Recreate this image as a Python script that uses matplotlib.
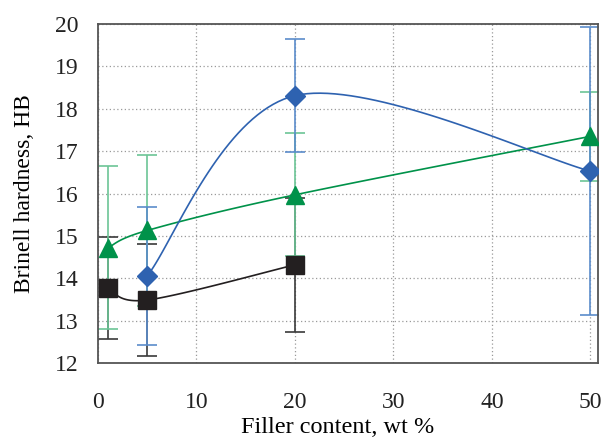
import numpy as np
import matplotlib
matplotlib.use("Agg")
import matplotlib.pyplot as plt

plt.rcParams["font.family"] = ["Liberation Serif", "DejaVu Serif"]

# filler content (wt %) and Brinell hardness (HB)
x_black = [1, 5, 20]
hb_black = [13.77, 13.49, 14.32]
err_black = [1.2, 1.33, 1.58]

x_blue = [5, 20, 50]
hb_blue = [14.06, 18.31, 16.53]
err_blue = [1.63, 1.34, 3.4]

x_green = [1, 5, 20, 50]
hb_green = [14.72, 15.13, 15.97, 17.35]
err_green = [1.92, 1.78, 1.45, 1.05]


def smooth(xs, ys, n=40):
    # Excel-like smoothed line: cubic bezier, control points from neighbours
    xs = np.asarray(xs, float)
    ys = np.asarray(ys, float)
    pts = np.column_stack([xs, ys])
    out = []
    for i in range(len(pts) - 1):
        p0 = pts[i - 1] if i > 0 else pts[i]
        p1, p2 = pts[i], pts[i + 1]
        p3 = pts[i + 2] if i + 2 < len(pts) else pts[i + 1]
        c1 = p1 + (p2 - p0) / 6
        c2 = p2 - (p3 - p1) / 6
        t = np.linspace(0, 1, n)[:, None]
        seg = ((1 - t) ** 3 * p1 + 3 * (1 - t) ** 2 * t * c1
               + 3 * (1 - t) * t ** 2 * c2 + t ** 3 * p2)
        out.append(seg)
    seg = np.vstack(out)
    return seg[:, 0], seg[:, 1]


fig = plt.figure(figsize=(6.03, 4.44), dpi=100)
ax = fig.add_axes([0.1625, 0.182, 0.829, 0.764])

series = [
    (x_black, hb_black, err_black, "#231f20", "#3a3a3a", "s", 13),
    (x_green, hb_green, err_green, "#00924a", "#6cc596", "^", 12.5),
    (x_blue, hb_blue, err_blue, "#2e62b0", "#5b8ccb", "D", 10),
]

for xs, ys, es, col, ecol, mk, ms in series:
    ax.errorbar(xs, ys, yerr=es, fmt="none", ecolor=ecol, elinewidth=1.2,
                capsize=7, capthick=1.2, zorder=2)
for xs, ys, es, col, ecol, mk, ms in series:
    sx, sy = smooth(xs, ys)
    ax.plot(sx, sy, color=col, lw=1.2, zorder=3)
    ax.plot(xs, ys, ls="none", marker=mk, ms=ms, color=col,
            markeredgecolor=col, zorder=4)

ax.set_xlim(0, 50.76)
ax.set_ylim(12, 20)
ax.set_xticks([0, 10, 20, 30, 40, 50])
ax.set_yticks(range(12, 21))
ax.tick_params(length=0, labelsize=17, colors="#222222")
ax.tick_params(axis="x", pad=21)
ax.tick_params(axis="y", pad=14)
ax.grid(True, color="#9a9a9a", ls=(0, (1, 2)), lw=0.9)
ax.set_axisbelow(True)
for s in ax.spines.values():
    s.set_color("#555555")
    s.set_linewidth(1.3)

ax.set_xlabel("Filler content, wt %", fontsize=17.5)
ax.set_ylabel("Brinell hardness, HB", fontsize=17, labelpad=14)
ax.xaxis.set_label_coords(0.48, -0.158)

fig.savefig("out.png", dpi=100)
